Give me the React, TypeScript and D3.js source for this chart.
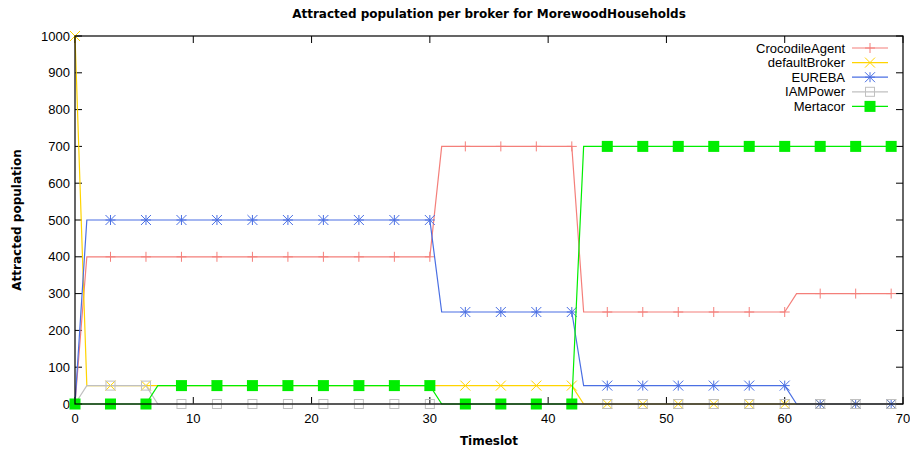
import React from "react";
import * as d3 from "d3";

const timeslots: number[] = d3.range(0, 70);
const crocodileAgent: number[] = [0, ...Array(30).fill(400), ...Array(12).fill(700), ...Array(18).fill(250), ...Array(9).fill(300)];
const defaultBroker: number[] = [1000, ...Array(42).fill(50), ...Array(27).fill(0)];
const eureba: number[] = [0, ...Array(30).fill(500), ...Array(12).fill(250), ...Array(18).fill(50), ...Array(9).fill(0)];
const iamPower: number[] = [0, ...Array(6).fill(50), ...Array(63).fill(0)];
const mertacor: number[] = [...Array(7).fill(0), ...Array(24).fill(50), ...Array(12).fill(0), ...Array(27).fill(700)];

const xTicks: number[] = [0, 10, 20, 30, 40, 50, 60, 70];
const yTicks: number[] = [0, 100, 200, 300, 400, 500, 600, 700, 800, 900, 1000];

const seriesNames = ["CrocodileAgent", "defaultBroker", "EUREBA", "IAMPower", "Mertacor"];
const seriesValues = [crocodileAgent, defaultBroker, eureba, iamPower, mertacor];
const seriesColors = ["#f47f7a", "#ffd400", "#4a6fe3", "#c0c0c0", "#00ee00"];
const markerTypes = ["plus", "cross", "star", "box", "fbox"];

const W = 910, H = 452;
const L = 75, R = 903, T = 36, B = 404;

function Marker({ type, x, y, color }: { type: string; x: number; y: number; color: string }) {
  const s = 5;
  if (type === "plus")
    return <path d={`M${x - s},${y}H${x + s}M${x},${y - s}V${y + s}`} stroke={color} strokeWidth={1} fill="none" />;
  if (type === "cross")
    return <path d={`M${x - s},${y - s}L${x + s},${y + s}M${x - s},${y + s}L${x + s},${y - s}`} stroke={color} strokeWidth={1} fill="none" />;
  if (type === "star")
    return (
      <path
        d={`M${x - s},${y}H${x + s}M${x},${y - s}V${y + s}M${x - s},${y - s}L${x + s},${y + s}M${x - s},${y + s}L${x + s},${y - s}`}
        stroke={color}
        strokeWidth={1}
        fill="none"
      />
    );
  if (type === "box")
    return <rect x={x - 4.5} y={y - 4.5} width={9} height={9} stroke={color} strokeWidth={1} fill="none" />;
  return <rect x={x - 5.5} y={y - 5.5} width={11} height={11} fill={color} />;
}

export default function App() {
  const x = d3.scaleLinear().domain([0, 70]).range([L, R]);
  const y = d3.scaleLinear().domain([0, 1000]).range([B, T]);
  const line = d3
    .line<number>()
    .x((_, i) => x(timeslots[i]))
    .y((d) => y(d));
  const tickFont = "'Liberation Sans Narrow', 'Liberation Sans', Arial, sans-serif";
  const legendFont = "'Liberation Sans', Arial, sans-serif";
  const boldFont = "'DejaVu Sans', Verdana, sans-serif";

  return (
    <svg width={W} height={H} style={{ position: "absolute", left: 0, top: 0, background: "#fff" }}>
      <rect x={0} y={0} width={W} height={H} fill="#fff" />
      <text x={489} y={18} textAnchor="middle" fontFamily={boldFont} fontWeight="bold" fontSize={12}>
        Attracted population per broker for MorewoodHouseholds
      </text>
      <text x={21} y={220} textAnchor="middle" fontFamily={boldFont} fontWeight="bold" fontSize={12} transform="rotate(-90 21 220)">
        Attracted population
      </text>
      <text x={489} y={445} textAnchor="middle" fontFamily={boldFont} fontWeight="bold" fontSize={12}>
        Timeslot
      </text>
      {yTicks.map((t) => (
        <g key={"y" + t}>
          <line x1={L} x2={L + 7} y1={y(t)} y2={y(t)} stroke="#000" />
          <line x1={R} x2={R - 7} y1={y(t)} y2={y(t)} stroke="#000" />
          <text x={L - 5} y={y(t) + 4.5} textAnchor="end" fontFamily={tickFont} fontSize={13}>
            {t}
          </text>
        </g>
      ))}
      {xTicks.map((t) => (
        <g key={"x" + t}>
          <line x1={x(t)} x2={x(t)} y1={B} y2={B - 7} stroke="#000" />
          <line x1={x(t)} x2={x(t)} y1={T} y2={T + 7} stroke="#000" />
          <text x={x(t)} y={B + 19} textAnchor="middle" fontFamily={tickFont} fontSize={13}>
            {t}
          </text>
        </g>
      ))}
      {seriesValues.map((vals, si) => (
        <g key={seriesNames[si]}>
          <path d={line(vals) || ""} fill="none" stroke={seriesColors[si]} strokeWidth={1.2} />
          {vals.map((v, i) =>
            timeslots[i] % 3 === 0 ? (
              <Marker key={i} type={markerTypes[si]} x={x(timeslots[i])} y={y(v)} color={seriesColors[si]} />
            ) : null
          )}
        </g>
      ))}
      {seriesNames.map((n, si) => {
        const ly = 48 + si * 14.6;
        return (
          <g key={"lg" + n}>
            <text x={845} y={ly + 4.5} textAnchor="end" fontFamily={legendFont} fontSize={13}>
              {n}
            </text>
            <line x1={852} x2={888} y1={ly} y2={ly} stroke={seriesColors[si]} strokeWidth={1.2} />
            <Marker type={markerTypes[si]} x={870} y={ly} color={seriesColors[si]} />
          </g>
        );
      })}
      <rect x={L} y={T} width={R - L} height={B - T} fill="none" stroke="#000" strokeWidth={1.2} />
    </svg>
  );
}
